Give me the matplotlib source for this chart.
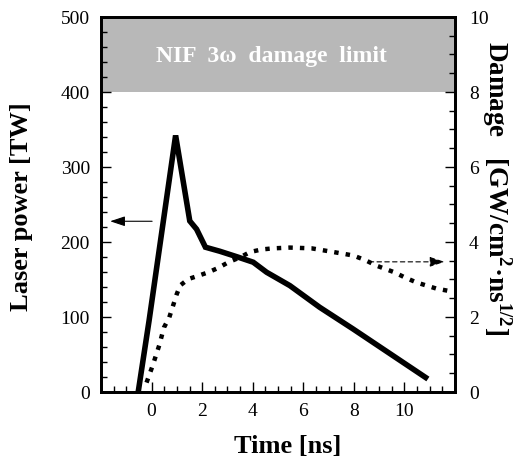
#!/usr/bin/env python3

# Laser power pulse shape and accumulated 3-omega damage vs time, with the
# NIF damage limit band on top.

import matplotlib
matplotlib.use("Agg")
import matplotlib.pyplot as plt
from matplotlib.ticker import MultipleLocator

# solid curve: laser power [TW] (left axis)
power_time = [-0.53, -0.1, 0.95, 1.51, 1.78, 2.13, 2.70, 3.40, 4.02, 4.55,
              5.47, 6.65, 7.97, 10.93]
power_tw   = [0, 95, 342, 228, 217, 193, 187.6, 180, 173, 159.6,
              141.8, 112.9, 84, 17.3]

# dotted curve: damage [GW/cm^2 ns^1/2] (right axis)
damage_time = [-0.2, 0.04, 0.30, 0.49, 0.70, 0.83, 0.99, 1.13, 1.45, 1.85,
               2.24, 2.64, 3.04, 3.50, 3.89, 4.35, 4.81, 5.47, 6.33, 7.12,
               7.97, 8.44, 8.89, 9.61, 10.0, 10.48, 11.25, 11.71]
damage_val  = [0.25, 0.70, 1.24, 1.72, 1.99, 2.26, 2.60, 2.84, 3.01, 3.10,
               3.19, 3.31, 3.46, 3.59, 3.73, 3.80, 3.83, 3.85, 3.83, 3.74,
               3.64, 3.52, 3.37, 3.19, 3.06, 2.92, 2.76, 2.70]

limit_band = (400, 500)
limit_text = "NIF  3\u03c9  damage  limit"

SERIF = ["Liberation Serif", "DejaVu Serif"]


def main() -> None:
    plt.rcParams["font.family"] = SERIF
    plt.rcParams["mathtext.fontset"] = "custom"
    plt.rcParams["mathtext.rm"] = "Liberation Serif"
    plt.rcParams["mathtext.bf"] = "Liberation Serif:bold"

    fig = plt.figure(figsize=(5.29, 4.60), dpi=100)
    ax = fig.add_axes([0.191, 0.1457, 0.669, 0.8153])
    ax2 = ax.twinx()

    ax.axhspan(*limit_band, color="#b8b8b8", lw=0, zorder=0)
    ax.text(4.74, 448, limit_text, color="white", fontsize=17, fontweight="bold",
            ha="center", va="center")

    ax.plot(power_time, power_tw, color="black", lw=4.0, solid_joinstyle="miter",
            solid_capstyle="butt", zorder=3)
    ax2.plot(damage_time, damage_val, color="black", lw=3.2,
             linestyle=(0, (1, 1.6)), dash_capstyle="butt", zorder=3)

    # arrows pointing to each curve's axis
    ax.annotate("", xy=(-1.75, 227.6), xytext=(0.13, 227.6),
                arrowprops=dict(arrowstyle="-|>,head_length=0.9,head_width=0.3",
                                color="black", lw=0.8))
    ax2.annotate("", xy=(11.7, 3.47), xytext=(8.5, 3.47),
                 arrowprops=dict(arrowstyle="-|>,head_length=0.9,head_width=0.3",
                                 color="black", lw=0.8, linestyle=(0, (4, 3))))

    ax.set_xlim(-2, 12)
    ax.set_ylim(0, 500)
    ax2.set_ylim(0, 10)

    ax.set_xticks([0, 2, 4, 6, 8, 10])
    ax.xaxis.set_minor_locator(MultipleLocator(0.5))
    ax.yaxis.set_major_locator(MultipleLocator(100))
    ax.yaxis.set_minor_locator(MultipleLocator(20))
    ax2.yaxis.set_major_locator(MultipleLocator(2))
    ax2.yaxis.set_minor_locator(MultipleLocator(0.5))

    for a in (ax, ax2):
        a.tick_params(which="both", direction="in", width=1.0, labelsize=14)
        a.tick_params(which="major", length=7)
        a.tick_params(which="minor", length=4)
        for s in a.spines.values():
            s.set_linewidth(2.0)
    ax.tick_params(axis="y", which="both", right=False, pad=8)
    ax.tick_params(axis="x", which="both", top=False, pad=7)
    ax2.tick_params(axis="y", which="both", pad=10)

    # axis titles placed in figure pixels to match the reference layout
    W, H = 529, 460
    fig.text(288 / W, 1 - 447 / H, "Time [ns]", fontsize=19, fontweight="bold",
             ha="center", va="center")
    fig.text(22 / W, 1 - 207 / H, "Laser power [TW]", fontsize=19,
             fontweight="bold", rotation=90, ha="center", va="center")
    fig.text(497 / W, 1 - 188 / H,
             "Damage   [GW/cm$^\\mathbf{2}$\u00b7ns$^\\mathbf{1/2}$]",
             fontsize=19.5, fontweight="bold", rotation=270,
             ha="center", va="center")

    fig.savefig("out.png", dpi=100)
    plt.close(fig)


if __name__ == "__main__":
    main()
